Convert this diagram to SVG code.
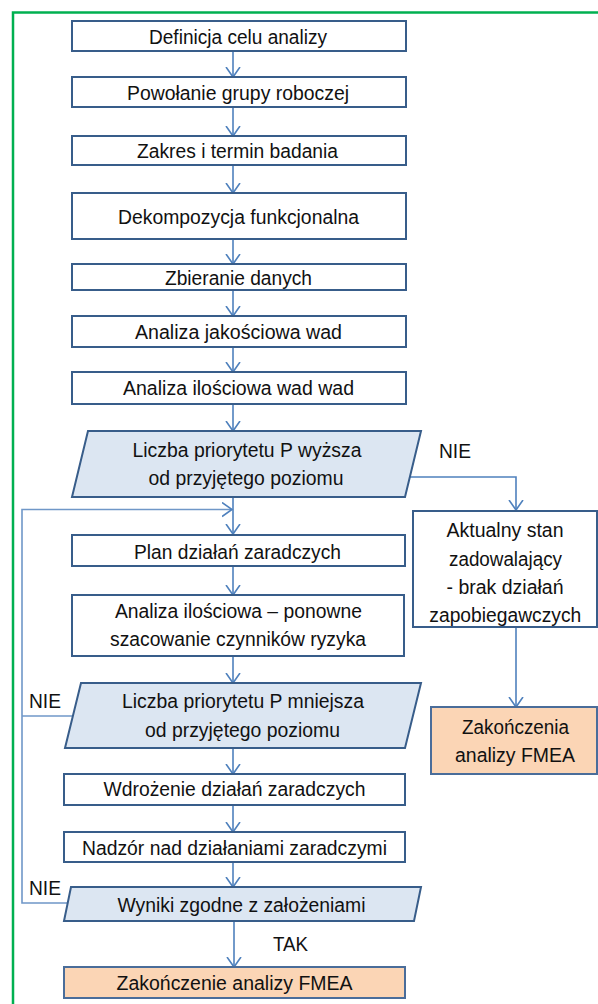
<svg xmlns="http://www.w3.org/2000/svg" width="598" height="1004" viewBox="0 0 598 1004">
<style>
.box{fill:#ffffff;stroke:#385d8a;stroke-width:2}
.dec{fill:#dce6f2;stroke:#385d8a;stroke-width:2}
.end{fill:#fbd5b5;stroke:#4a6d9a;stroke-width:2}
.con{fill:none;stroke:#4f81bd;stroke-width:1.6}
.loop{fill:none;stroke:#6f97c8;stroke-width:1.6}
text{font-family:"Liberation Sans",Arial,sans-serif;font-size:20px;fill:#111;text-anchor:middle}
.lbl{text-anchor:start}
</style>
<defs>
<marker id="ah" viewBox="0 0 12 16" refX="10" refY="8" markerWidth="12" markerHeight="16" markerUnits="userSpaceOnUse" orient="auto">
<path d="M0,1 L10,8 L0,15" fill="none" stroke="#4f81bd" stroke-width="1.6"/>
</marker>
</defs>
<rect width="598" height="1004" fill="#ffffff"/>
<path d="M13,1004 V12.5 H598" fill="none" stroke="#00b050" stroke-width="2.5"/>

<g id="connectors">
<path class="con" d="M233,51 V77" marker-end="url(#ah)"/>
<path class="con" d="M233,107 V136" marker-end="url(#ah)"/>
<path class="con" d="M233,165 V193" marker-end="url(#ah)"/>
<path class="con" d="M233,239 V264" marker-end="url(#ah)"/>
<path class="con" d="M233,290 V316" marker-end="url(#ah)"/>
<path class="con" d="M233,347 V372" marker-end="url(#ah)"/>
<path class="con" d="M233,404 V431" marker-end="url(#ah)"/>
<path class="con" d="M233,497 V534" marker-end="url(#ah)"/>
<path class="con" d="M233,566 V595" marker-end="url(#ah)"/>
<path class="con" d="M233,656 V683" marker-end="url(#ah)"/>
<path class="con" d="M233,748 V774" marker-end="url(#ah)"/>
<path class="con" d="M233,805 V832" marker-end="url(#ah)"/>
<path class="con" d="M233,862 V887" marker-end="url(#ah)"/>
<path class="con" d="M234,921 V967" marker-end="url(#ah)"/>
<path class="con" d="M410,477 H516 V510" marker-end="url(#ah)"/>
<path class="con" d="M516,627 V707" marker-end="url(#ah)"/>
<path class="loop" d="M67,903 H22 V509.5 H232" marker-end="url(#ah)"/>
<path class="loop" d="M73,716 H22"/>
<text class="lbl" x="439" y="458" textLength="32" lengthAdjust="spacingAndGlyphs">NIE</text>
<text class="lbl" x="29" y="708" textLength="32" lengthAdjust="spacingAndGlyphs">NIE</text>
<text class="lbl" x="29" y="895" textLength="32" lengthAdjust="spacingAndGlyphs">NIE</text>
<text class="lbl" x="273" y="951" textLength="35" lengthAdjust="spacingAndGlyphs">TAK</text>
</g>

<g id="n1"><rect class="box" x="72" y="21" width="334" height="30"/><text x="238" y="44" textLength="178" lengthAdjust="spacingAndGlyphs">Definicja celu analizy</text></g>
<g id="n2"><rect class="box" x="72" y="77" width="334" height="30"/><text x="238" y="100" textLength="222" lengthAdjust="spacingAndGlyphs">Powołanie  grupy  roboczej</text></g>
<g id="n3"><rect class="box" x="72" y="136" width="334" height="29"/><text x="237.5" y="158" textLength="201" lengthAdjust="spacingAndGlyphs">Zakres i termin  badania</text></g>
<g id="n4"><rect class="box" x="72" y="193" width="334" height="46"/><text x="238.5" y="224" textLength="241" lengthAdjust="spacingAndGlyphs">Dekompozycja  funkcjonalna</text></g>
<g id="n5"><rect class="box" x="72" y="264" width="334" height="26"/><text x="238.5" y="285" textLength="147" lengthAdjust="spacingAndGlyphs">Zbieranie  danych</text></g>
<g id="n6"><rect class="box" x="72" y="316" width="334" height="31"/><text x="238.5" y="339" textLength="207" lengthAdjust="spacingAndGlyphs">Analiza  jakościowa  wad</text></g>
<g id="n7"><rect class="box" x="72" y="372" width="334" height="32"/><text x="238.5" y="395" textLength="231" lengthAdjust="spacingAndGlyphs">Analiza  ilościowa  wad  wad</text></g>
<g id="d1"><polygon class="dec" points="88,431 421,431 405,497 72,497"/><text x="247" y="457" textLength="229" lengthAdjust="spacingAndGlyphs">Liczba  priorytetu  P wyższa</text><text x="246" y="485" textLength="195" lengthAdjust="spacingAndGlyphs">od  przyjętego  poziomu</text></g>
<g id="n8"><rect class="box" x="72" y="535" width="333" height="31"/><text x="237.5" y="559" textLength="207" lengthAdjust="spacingAndGlyphs">Plan  działań  zaradczych</text></g>
<g id="n9"><rect class="box" x="72" y="595" width="332" height="61"/><text x="238.4" y="618" textLength="247" lengthAdjust="spacingAndGlyphs">Analiza  ilościowa  – ponowne</text><text x="238" y="646" textLength="256" lengthAdjust="spacingAndGlyphs">szacowanie  czynników  ryzyka</text></g>
<g id="r1"><rect class="box" x="413" y="511" width="184" height="116"/><text x="505" y="537" textLength="117" lengthAdjust="spacingAndGlyphs">Aktualny  stan</text><text x="505.5" y="566" textLength="113" lengthAdjust="spacingAndGlyphs">zadowalający</text><text x="505" y="594" textLength="117" lengthAdjust="spacingAndGlyphs">- brak  działań</text><text x="505.3" y="622" textLength="152" lengthAdjust="spacingAndGlyphs">zapobiegawczych</text></g>
<g id="d2"><polygon class="dec" points="81,683 421,683 405,748 65,748"/><text x="243" y="708" textLength="242" lengthAdjust="spacingAndGlyphs">Liczba  priorytetu  P mniejsza</text><text x="242.5" y="737" textLength="195" lengthAdjust="spacingAndGlyphs">od  przyjętego  poziomu</text></g>
<g id="r2"><rect class="end" x="431" y="707" width="166" height="67"/><text x="515.5" y="734" textLength="107" lengthAdjust="spacingAndGlyphs">Zakończenia</text><text x="515" y="762" textLength="120" lengthAdjust="spacingAndGlyphs">analizy  FMEA</text></g>
<g id="n10"><rect class="box" x="64" y="774" width="341" height="31"/><text x="234.5" y="796" textLength="262" lengthAdjust="spacingAndGlyphs">Wdrożenie  działań  zaradczych</text></g>
<g id="n11"><rect class="box" x="64" y="832" width="341" height="30"/><text x="234.5" y="855" textLength="305" lengthAdjust="spacingAndGlyphs">Nadzór nad  działaniami  zaradczymi</text></g>
<g id="d3"><polygon class="dec" points="71,887 421,887 414,921 64,921"/><text x="241.5" y="912" textLength="248" lengthAdjust="spacingAndGlyphs">Wyniki  zgodne  z założeniami</text></g>
<g id="n12"><rect class="end" x="64" y="967" width="341" height="31"/><text x="234.5" y="990" textLength="236" lengthAdjust="spacingAndGlyphs">Zakończenie  analizy  FMEA</text></g>
</svg>
